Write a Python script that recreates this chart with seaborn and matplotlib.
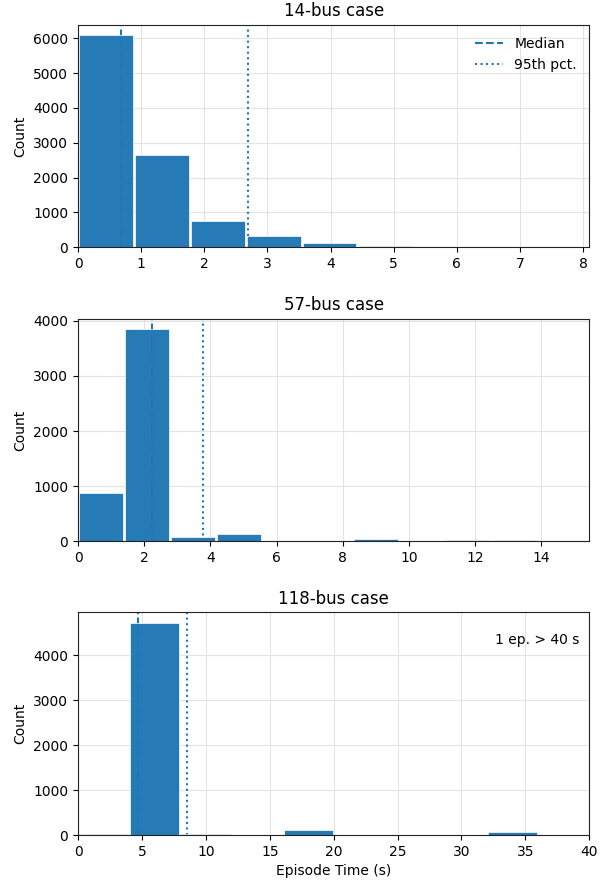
import matplotlib
matplotlib.use("Agg")
import matplotlib.pyplot as plt
import seaborn as sns
import numpy as np
import pandas as pd

sns.set_style("ticks", {"text.color": "black", "axes.labelcolor": "black",
                        "xtick.color": "black", "ytick.color": "black",
                        "axes.edgecolor": "#222222"})
plt.rcParams['font.family'] = ['DejaVu Sans']

# counts per bin
edges_14 = np.linspace(0, 7.97, 10)
counts_14 = [6085, 2645, 748, 315, 128, 42, 3, 2, 1]
median_14, p95_14 = 0.68, 2.70

edges_57 = np.linspace(0, 15.25, 12)
counts_57 = [868, 3850, 78, 138, 0, 0, 45, 0, 14, 14, 1]
median_57, p95_57 = 2.24, 3.78

edges_118 = np.linspace(0, 40, 11)
counts_118 = [15, 4715, 32, 0, 105, 0, 0, 0, 60, 0]
median_118, p95_118 = 4.7, 8.5

cases = [
    ("14-bus case", edges_14, counts_14, median_14, p95_14, 8.1),
    ("57-bus case", edges_57, counts_57, median_57, p95_57, 15.45),
    ("118-bus case", edges_118, counts_118, median_118, p95_118, 40),
]

blue = "#1f77b4"
fig, axes = plt.subplots(3, 1, figsize=(6.1, 8.8))
fig.subplots_adjust(left=0.128, right=0.966, top=0.972, bottom=0.051, hspace=0.32)

for ax, (title, edges, counts, med, p95, xmax) in zip(axes, cases):
    df = pd.DataFrame({"t": (edges[:-1] + edges[1:]) / 2, "n": counts})
    ax.grid(True, color="#e3e3e3", linewidth=0.8, zorder=0)
    ax.set_axisbelow(True)
    ax.axvline(med, color=blue, ls="--", lw=1.5, label="Median", zorder=1)
    ax.axvline(p95, color=blue, ls=":", lw=1.5, label="95th pct.", zorder=1)
    sns.histplot(data=df, x="t", weights="n", bins=list(edges), ax=ax,
                 color=blue, alpha=0.97, shrink=0.96, edgecolor="white",
                 linewidth=0.5, zorder=2)
    ax.set_xlim(0, xmax)
    ax.set_title(title, fontsize=12)
    ax.set_ylabel("Count")
    ax.set_xlabel("")
    for s in ax.spines.values():
        s.set_visible(True)

axes[0].legend(loc="upper right", frameon=False)
axes[2].set_xlabel("Episode Time (s)")
axes[2].text(0.98, 0.875, "1 ep. > 40 s", transform=axes[2].transAxes,
             ha="right", va="center", fontsize=10)

fig.savefig("out.png", dpi=100)
